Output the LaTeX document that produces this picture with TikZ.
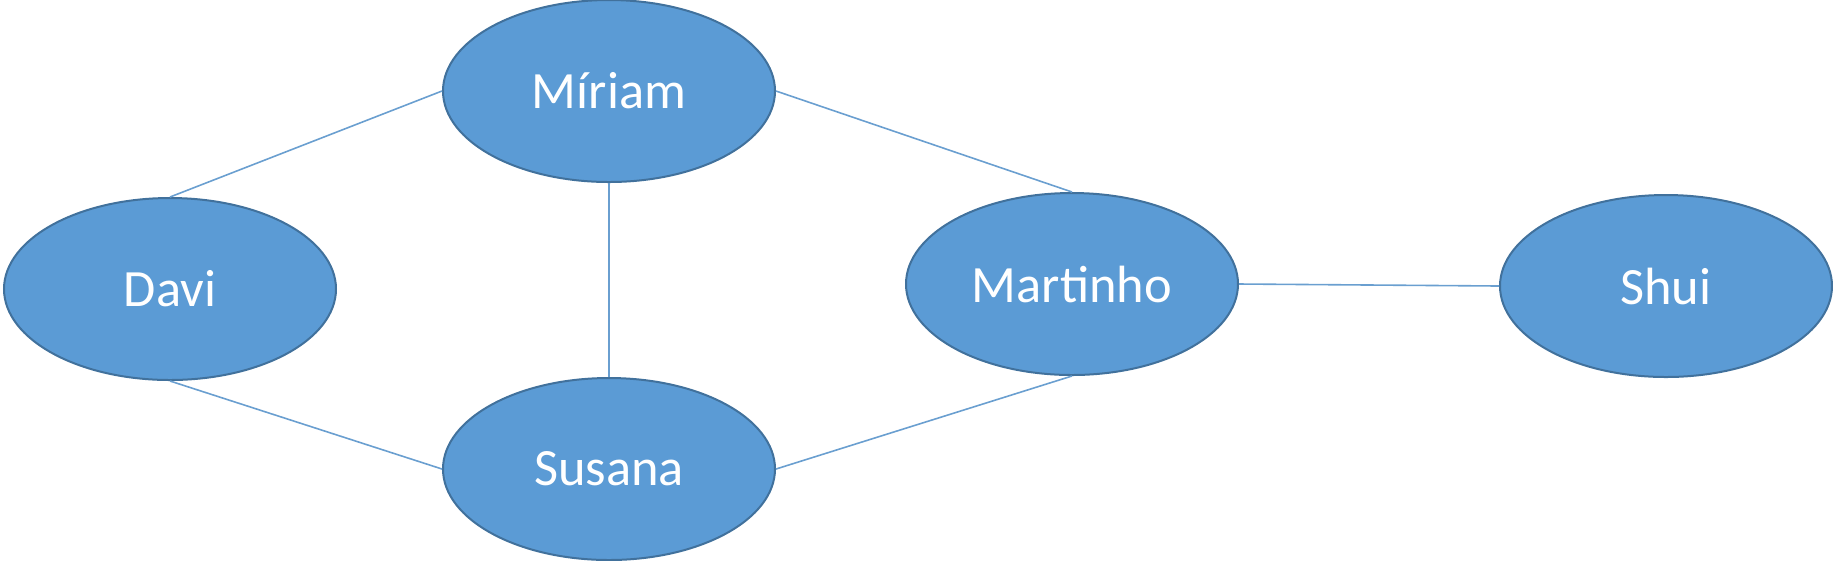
\documentclass[tikz,border=0pt]{standalone}
\usepackage{fontspec}
\setmainfont{Carlito}
\usetikzlibrary{shapes.geometric}
\definecolor{nodefill}{HTML}{5B9BD5}
\definecolor{nodeedge}{HTML}{41719C}
\definecolor{linkcol}{HTML}{6A9FD0}
\begin{document}
\begin{tikzpicture}[x=0.25pt,y=-0.25pt,
  person/.style={ellipse, draw=nodeedge, line width=0.5pt, fill=nodefill,
    minimum width=83pt, minimum height=45.5pt, inner sep=0pt,
    text=white, font=\fontsize{13.1}{15.5}\selectfont},
  link/.style={draw=linkcol, line width=0.4pt}]
\useasboundingbox (0,0) rectangle (1833,560);
\node[person] (miriam) at (609,91) {Míriam};
\node[person] (davi) at (170,289) {Davi};
\node[person] (susana) at (609,469) {Susana};
\node[person] (martinho) at (1072,284) {Martinho};
\node[person] (shui) at (1666,286) {Shui};
\draw[link] (davi.north) -- (miriam.west);
\draw[link] (miriam.east) -- (martinho.north);
\draw[link] (miriam.south) -- (susana.north);
\draw[link] (davi.south) -- (susana.west);
\draw[link] (susana.east) -- (martinho.south);
\draw[link] (martinho.east) -- (shui.west);
\end{tikzpicture}
\end{document}
